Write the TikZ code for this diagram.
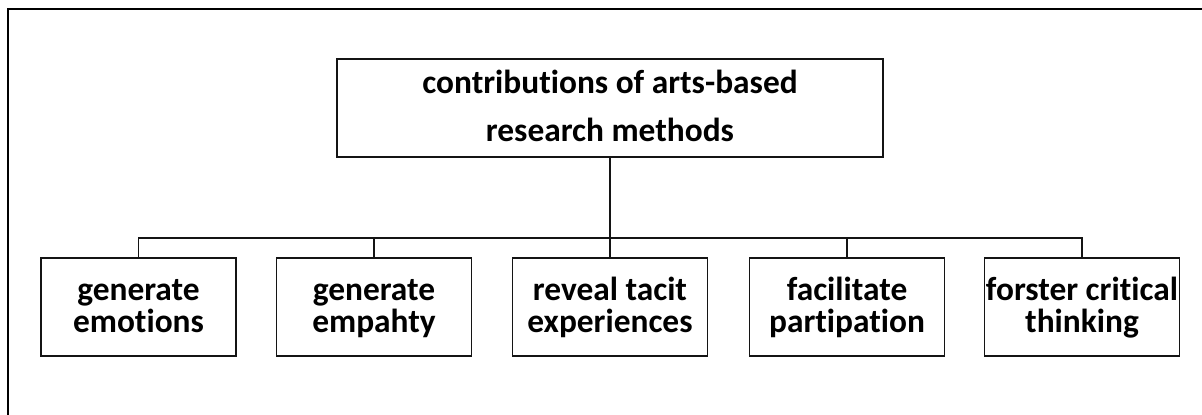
\documentclass[tikz,border=0pt]{standalone}
\usepackage{fontspec}
\setmainfont{Carlito}[Ligatures=NoCommon]
\usepackage{tikz}
\usepackage{xcolor}
\definecolor{boxline}{RGB}{20,20,20}

\begin{document}
\begin{tikzpicture}[x=0.02cm, y=-0.02cm,
    rootbox/.style={draw=boxline, line width=0.8pt, minimum width=546*0.02cm, minimum height=98*0.02cm,
        align=center, inner sep=0pt, text height=41.3pt, text depth=2.7pt,
        font=\fontsize{19}{27.8}\selectfont\bfseries},
    leafbox/.style={draw=boxline, line width=0.8pt, minimum width=195*0.02cm, minimum height=98*0.02cm,
        align=center, inner sep=0pt, text height=32.2pt, text depth=2.7pt,
        font=\fontsize{19}{18.7}\selectfont\bfseries},
    link/.style={draw=boxline, line width=0.8pt}]
    \useasboundingbox (0,0) rectangle (1202,415);
    % Frame: only top and left edges are visible
    \draw[line width=1.2pt] (8,415) -- (8,9) -- (1202,9);

    % Root
    \node[rootbox] (contrib) at (610,108) {contributions of arts-based\\research methods};

    % Contributions
    \node[leafbox] (emotions) at (138.5,307) {generate\\emotions};
    \node[leafbox] (empathy) at (374,307) {generate\\empahty};
    \node[leafbox] (tacit) at (610,307) {reveal tacit\\experiences};
    \node[leafbox] (particip) at (847,307) {facilitate\\partipation};
    \node[leafbox] (critical) at (1082,307) {forster critical\\thinking};

    % Tree connectors
    \coordinate (bus) at (610,238);
    \draw[link] (contrib.south) -- (bus);
    \foreach \leaf in {emotions,empathy,tacit,particip,critical}
        \draw[link] (bus) -| (\leaf.north);
\end{tikzpicture}
\end{document}
